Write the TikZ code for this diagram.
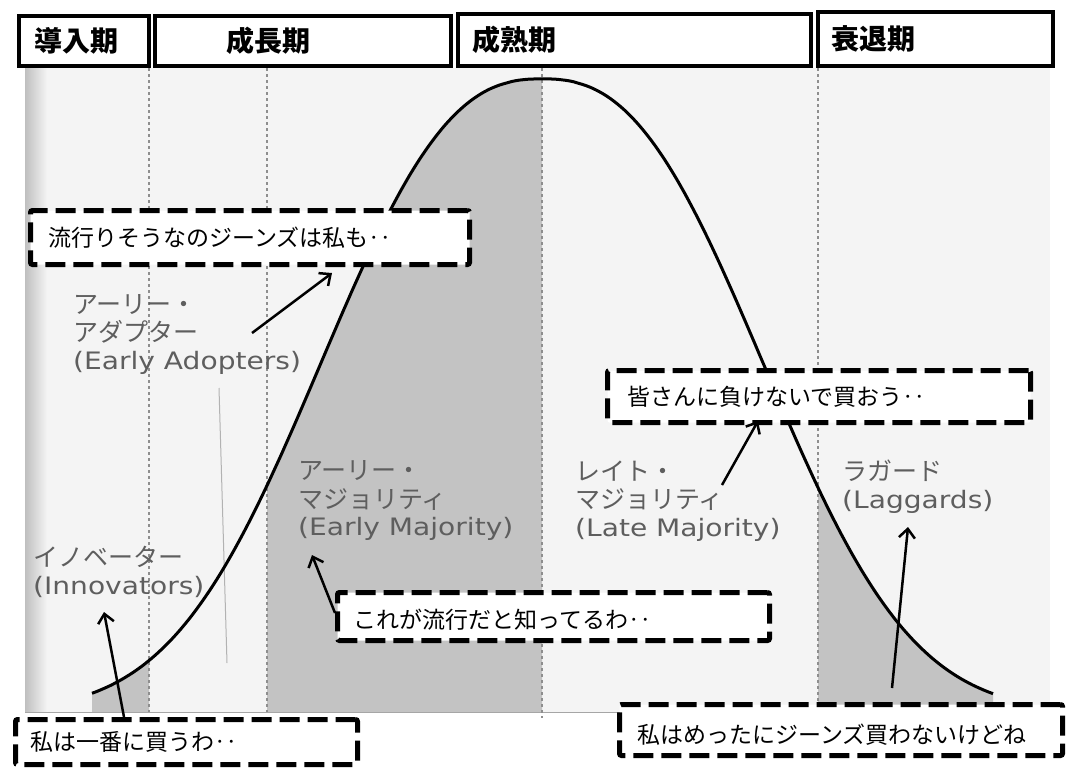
\documentclass[tikz,border=0pt]{standalone}
\usepackage{fontspec}
\usepackage{graphicx}
\usetikzlibrary{arrows.meta}
\newfontfamily\cjk{Noto Sans CJK JP}
\newfontfamily\latf{DejaVu Sans}
\definecolor{labgray}{HTML}{5E5E5E}
\definecolor{fillgray}{HTML}{C3C3C3}
\definecolor{bggray}{HTML}{F4F4F4}
\definecolor{vline}{HTML}{8E8E8E}
\newcommand{\lat}[1]{{\latf\fontsize{24}{28}\selectfont\scalebox{1.17}[1]{#1}}}
\begin{document}
\begin{tikzpicture}[x=1pt,y=-1pt,
  declare function={bell(\t)=712-633*exp(-((abs(\t-542)+0.01)/272)^2.5);},
  hdr/.style={draw=black,line width=4pt,fill=white,inner sep=0pt},
  hdrtext/.style={font=\cjk\bfseries\fontsize{28}{30}\selectfont,anchor=west,inner sep=0pt},
  sbox/.style={draw=black,line width=5pt,dash pattern=on 20pt off 8pt,fill=white,rounded corners=2pt,inner sep=0pt},
  stext/.style={font=\cjk\fontsize{23}{26}\selectfont,anchor=west,inner sep=0pt},
  lab/.style={font=\cjk\fontsize{25}{28}\selectfont,text=labgray,anchor=west,align=left,inner sep=0pt},
  arr/.style={line width=2.5pt,-{Straight Barb[length=9pt,width=16pt,line width=2.5pt]}},
  bound/.style={vline,line width=1.2pt,dash pattern=on 3pt off 3pt},
  bellcurve/.style={line width=3pt,black},
]
\useasboundingbox (0,0) rectangle (1070,771);
\fill[white] (0,0) rectangle (1070,771);
% background
\fill[bggray] (25,68) rectangle (1050,712);
\shade[left color=gray!50, right color=bggray] (25,68) rectangle (47,712);
% shaded segments
\fill[fillgray] (92,712) -- plot[domain=92:149,samples=30] (\x,{bell(\x)}) -- (149,712) -- cycle;
\fill[fillgray] (267,712) -- plot[domain=267:542,samples=80] (\x,{bell(\x)}) -- (542,712) -- cycle;
\fill[fillgray] (818,712) -- plot[domain=818:993,samples=60] (\x,{bell(\x)}) -- (993,712) -- cycle;
% baseline and boundaries
\draw[gray!70,line width=1pt] (25,712) -- (1050,712);
\draw[bound] (149,68) -- (149,712);
\draw[bound] (267,68) -- (267,712);
\draw[bound] (542,68) -- (542,718);
\draw[bound] (818,68) -- (818,712);
\draw[gray!60,line width=1pt] (219,388) -- (227,663);
% curve
\draw[bellcurve] plot[domain=92:993,samples=220,smooth] (\x,{bell(\x)});
% headers
\node[hdr,minimum width=130pt,minimum height=50pt] (h1) at (84,41) {};
\node[hdr,minimum width=296pt,minimum height=50pt] (h2) at (303,41) {};
\node[hdr,minimum width=353pt,minimum height=52pt] (h3) at (634.5,40) {};
\node[hdr,minimum width=235pt,minimum height=54pt] (h4) at (935.5,39) {};
\node[hdrtext] (h1t) at (34,41) {導入期};
\node[hdrtext] (h2t) at (226,41) {成長期};
\node[hdrtext] (h3t) at (472,40) {成熟期};
\node[hdrtext] (h4t) at (831,39) {衰退期};
% category labels
\node[lab] (inn) at (33,571.5) {イノベーター\\\lat{(Innovators)}};
\node[lab] (ead) at (73,335) {アーリー・\\アダプター\\\lat{(Early Adopters)}};
\node[lab] (emj) at (298,501) {アーリー・\\マジョリティ\\\lat{(Early Majority)}};
\node[lab] (lmj) at (575,501) {レイト・\\マジョリティ\\\lat{(Late Majority)}};
\node[lab] (lag) at (842,487) {ラガード\\\lat{(Laggards)}};
% speech boxes
\node[sbox,minimum width=342pt,minimum height=45pt] (b1) at (186.5,742) {};
\node[sbox,minimum width=439pt,minimum height=54pt] (b2) at (250,237.5) {};
\node[sbox,minimum width=432pt,minimum height=48pt] (b3) at (553.5,616.5) {};
\node[sbox,minimum width=423pt,minimum height=52pt] (b4) at (819,396.5) {};
\node[sbox,minimum width=443pt,minimum height=51pt] (b5) at (841,730) {};
\node[stext] (t1) at (30,742) {私は一番に買うわ‥};
\node[stext] (t2) at (48,238) {流行りそうなのジーンズは私も‥};
\node[stext] (t3) at (353,620) {これが流行だと知ってるわ‥};
\node[stext] (t4) at (627,397) {皆さんに負けないで買おう‥};
\node[stext] (t5) at (637,735) {私はめったにジーンズ買わないけどね};
% arrows
\coordinate (a1s) at (124,717); \coordinate (a1e) at (104,612);
\coordinate (a2s) at (252,333); \coordinate (a2e) at (332,273);
\coordinate (a3s) at (335,613); \coordinate (a3e) at (312,555);
\coordinate (a4s) at (722,485); \coordinate (a4e) at (758,421);
\coordinate (a5s) at (892,688); \coordinate (a5e) at (908,527);
\draw[arr] (a1s) -- (a1e);
\draw[arr] (a2s) -- (a2e);
\draw[arr] (a3s) -- (a3e);
\draw[arr] (a4s) -- (a4e);
\draw[arr] (a5s) -- (a5e);
\end{tikzpicture}
\end{document}
